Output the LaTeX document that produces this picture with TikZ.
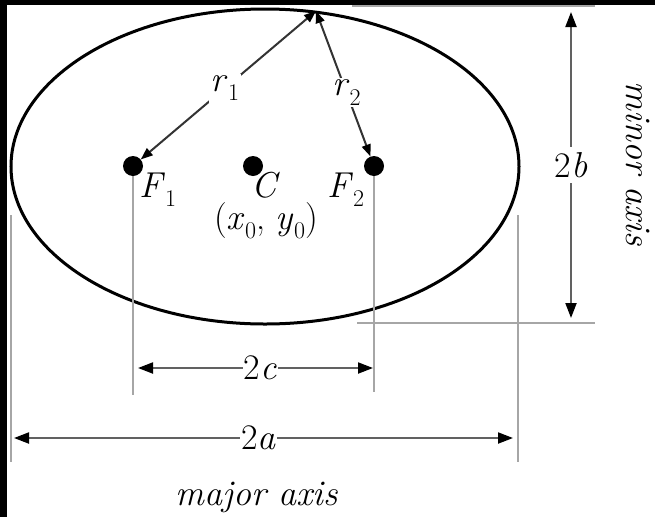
\documentclass[tikz,border=0pt]{standalone}
\usetikzlibrary{arrows.meta}
\newcommand\subs[1]{\raisebox{-0.26em}{\fontsize{24}{24}\selectfont #1}}
\begin{document}
\begin{tikzpicture}[x=1pt,y=-1pt,
  lab/.style={font=\rmfamily\fontsize{36}{40}\selectfont, inner sep=0pt},
  cut/.style={lab, fill=white, inner sep=2pt},
  dot/.style={circle, fill=black, inner sep=0pt, minimum size=20pt},
  ext/.style={draw=black!35, line width=2pt},
  dim/.style={draw=black!62, line width=2pt,
    {Triangle[length=15pt,width=11pt,color=black]}-{Triangle[length=15pt,width=11pt,color=black]}},
  rad/.style={draw=black!80, line width=2pt,
    {Triangle[length=12pt,width=9pt,color=black]}-{Triangle[length=12pt,width=9pt,color=black]}}]
\useasboundingbox (0,0) rectangle (655,517);
\fill[white] (0,0) rectangle (655,517);
% ellipse
\draw[line width=3pt] (265,166.5) ellipse [x radius=254, y radius=157.5];
% points
\node[dot] (F1) at (133,166) {};
\node[dot] (C) at (253,166) {};
\node[dot] (F2) at (374,166) {};
\coordinate (top) at (316,11);
% labels of points
\node[lab, anchor=base west] (lF1) at (139,197) {\textit{F}\subs{1}};
\node[lab, anchor=base west] (lC) at (251,197) {\textit{C}};
\node[lab, anchor=base west] (lF2) at (327,197) {\textit{F}\subs{2}};
\node[lab, anchor=base] (lxy) at (266,229) {(\textit{x}\subs{0}, \textit{y}\subs{0})};
% radii
\draw[rad] (top) -- node[cut, pos=0.52] (r1) {\textit{r}\subs{1}} (F1);
\draw[rad] (top) -- node[cut, pos=0.56] (r2) {\textit{r}\subs{2}} (F2);
% extension lines
\coordinate (F1b) at (133,395);
\coordinate (F2b) at (374,392);
\coordinate (L1) at (11,215);
\coordinate (L2) at (11,462);
\coordinate (R1) at (518,215);
\coordinate (R2) at (518,462);
\coordinate (T1) at (352,6);
\coordinate (T2) at (595,6);
\coordinate (B1) at (357,323);
\coordinate (B2) at (595,323);
\draw[ext] (F1.south) -- (F1b);
\draw[ext] (F2.south) -- (F2b);
\draw[ext] (L1) -- (L2);
\draw[ext] (R1) -- (R2);
\draw[ext] (T1) -- (T2);
\draw[ext] (B1) -- (B2);
% dimension arrows
\coordinate (c1) at (138,368);
\coordinate (c2) at (373,368);
\coordinate (a1) at (14,438);
\coordinate (a2) at (513,438);
\coordinate (b1) at (571,12);
\coordinate (b2) at (571,318);
\draw[dim] (c1) -- node[cut, inner sep=1pt, pos=0.52] (l2c) {2\textit{c}} (c2);
\draw[dim] (a1) -- node[cut, inner sep=1pt, pos=0.49] (l2a) {2\textit{a}} (a2);
\draw[dim] (b1) -- node[cut, inner xsep=1pt, inner ysep=5pt, pos=0.5] (l2b) {2\textit{b}} (b2);
% axis names
\node[lab, anchor=base] (major) at (257,505) {\textit{major axis}};
\node[lab, anchor=base, rotate=-90] (minor) at (626,164) {\textit{minor axis}};
% black frame strips of the reference
\fill[black] (0,0) rectangle (655,4.5);
\fill[black] (0,0) rectangle (7,517);
\end{tikzpicture}
\end{document}
